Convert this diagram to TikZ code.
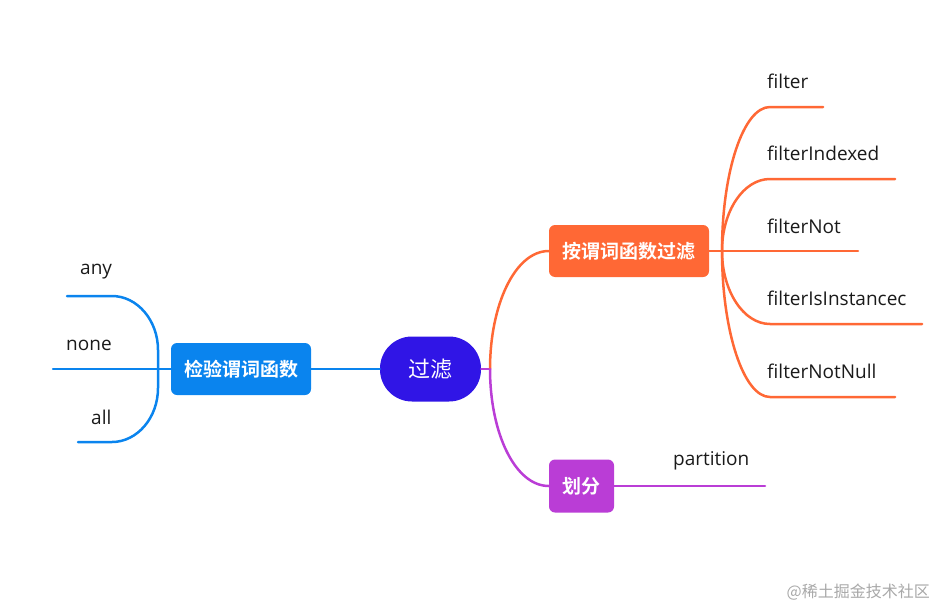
\documentclass[tikz,border=0pt]{standalone}
\usepackage{fontspec}
\setmainfont{Open Sans}
\newfontfamily\cjk[BoldFont={Noto Sans CJK SC Bold}]{Noto Sans CJK SC}
\definecolor{centerc}{HTML}{3015E6}
\definecolor{bluec}{HTML}{0A84EE}
\definecolor{orangec}{HTML}{FF6835}
\definecolor{purplec}{HTML}{BA3DD6}
\definecolor{textdark}{HTML}{1A1A1A}
\definecolor{markc}{HTML}{A8A8A8}
\tikzset{
  topicbox/.style={rounded corners=6pt, fill=#1, text=white, font=\cjk\bfseries\fontsize{19}{21}\selectfont, minimum height=52pt, inner sep=0pt},
  leaf/.style={font=\fontsize{19}{22}\selectfont, text=textdark, inner sep=0pt, anchor=west},
  link/.style={line width=2.5pt, draw=#1, line cap=round}
}
\begin{document}
\begin{tikzpicture}[x=1pt,y=-1pt]
\useasboundingbox (0,0) rectangle (936,610);

% main nodes
\node[fill=centerc, rounded corners=32pt, minimum width=101pt, minimum height=65pt, inner sep=0pt, text=white, font=\cjk\fontsize{22}{24}\selectfont] (c) at (430.5,369) {过滤};
\node[topicbox=bluec, minimum width=140pt] (L) at (241,369) {检验谓词函数};
\node[topicbox=orangec, minimum width=160pt] (R) at (629,251) {按谓词函数过滤};
\node[topicbox=purplec, minimum width=65pt, minimum height=53pt] (P) at (581.5,486) {划分};

% junctions and line ends
\coordinate (lj) at (158,369);
\coordinate (cj) at (490,369);
\coordinate (rj) at (722,251);
\coordinate (e1) at (67,296);
\coordinate (e2) at (53,369);
\coordinate (e3) at (78,442);
\coordinate (f1) at (823,107);
\coordinate (f2) at (895,179);
\coordinate (f3) at (858,251);
\coordinate (f4) at (922,324);
\coordinate (f5) at (895,397);
\coordinate (pe) at (765,486);

% left connectors
\draw[link=bluec] (c.west) -- (L.east);
\draw[link=bluec] (L.west) -- (lj) -- (e2);
\draw[link=bluec] (lj) -- (158,350) .. controls (158,320) and (137,296) .. (112,296) -- (e1);
\draw[link=bluec] (lj) -- (158,388) .. controls (158,418) and (137,442) .. (112,442) -- (e3);

% centre to right
\draw[link=purplec] (c.east) -- (cj);
\draw[link=orangec] (cj) .. controls (490,305) and (515,251) .. (R.west);
\draw[link=purplec] (cj) .. controls (490,433) and (515,486) .. (P.west);
\draw[link=purplec] (P.east) -- (pe);

% orange branches
\draw[link=orangec] (R.east) -- (rj) -- (f3);
\draw[link=orangec] (rj) .. controls (722,171.5) and (743.5,107) .. (770,107) -- (f1);
\draw[link=orangec] (rj) .. controls (722,211) and (743.5,179) .. (770,179) -- (f2);
\draw[link=orangec] (rj) .. controls (722,291) and (743.5,324) .. (770,324) -- (f4);
\draw[link=orangec] (rj) .. controls (722,331) and (743.5,397) .. (770,397) -- (f5);

% labels
\node[leaf] (t1) at (767,81) {filter};
\node[leaf] (t2) at (767,153) {filterIndexed};
\node[leaf] (t3) at (767,226) {filterNot};
\node[leaf] (t4) at (767,298) {filterIsInstancec};
\node[leaf] (t5) at (767,371) {filterNotNull};
\node[leaf] (tp) at (673,461) {partition};
\node[leaf] (ta) at (80,272) {any};
\node[leaf] (tn) at (66,345) {none};
\node[leaf] (tl) at (91,417) {all};

% watermark
\node[anchor=east, inner sep=0pt, text=markc, font=\cjk\fontsize{16}{18}\selectfont] (wm) at (930,592) {@稀土掘金技术社区};
\end{tikzpicture}
\end{document}
